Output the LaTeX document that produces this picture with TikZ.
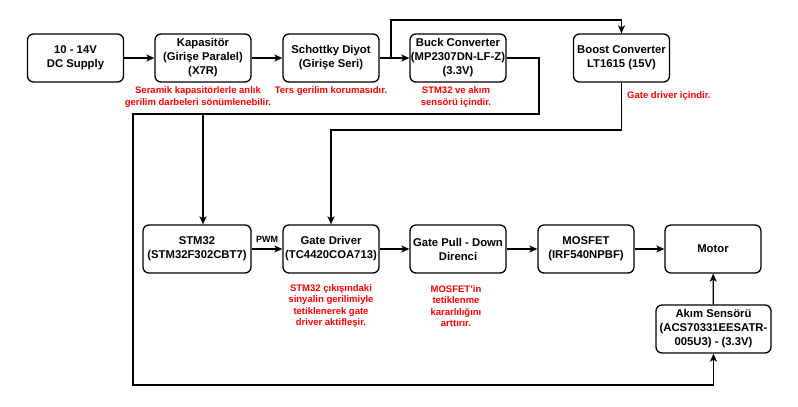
\documentclass[tikz,border=0pt]{standalone}
\usepackage{fontspec}
\setmainfont{Liberation Sans}
\usetikzlibrary{arrows.meta}
\begin{document}
\begin{tikzpicture}[x=1pt,y=-1pt,
  box/.style={draw,line width=1.3pt,rounded corners=6pt,minimum width=96pt,minimum height=48pt,inner sep=0pt,align=center,font=\bfseries\fontsize{11.3}{14}\selectfont},
  note/.style={text=red,align=center,font=\bfseries\fontsize{9.5}{11.5}\selectfont,inner sep=0pt},
  wire/.style={line width=1.3pt},
  arr/.style={wire,-{Stealth[length=8pt,width=7pt,inset=2pt]}}]
\useasboundingbox (0,0) rectangle (798,407);
\node[box] (dc) at (75.5,58) {10 - 14V\\DC Supply};
\node[box] (kap) at (203,58) {Kapasitör\\(Girişe Paralel)\\(X7R)};
\node[box] (sch) at (331,58) {Schottky Diyot\\(Girişe Seri)};
\node[box] (buck) at (458,58) {Buck Converter\\(MP2307DN-LF-Z)\\(3.3V)};
\node[box] (boost) at (621.5,58) {Boost Converter\\LT1615 (15V)};
\node[box,minimum width=108pt] (stm) at (197,249) {STM32\\(STM32F302CBT7)};
\node[box] (gd) at (331,249) {Gate Driver\\(TC4420COA713)};
\node[box] (gpd) at (458,249) {Gate Pull - Down\\Direnci};
\node[box] (mos) at (586,249) {MOSFET\\(IRF540NPBF)};
\node[box] (motor) at (713,249) {Motor};
\node[box,minimum width=115pt] (akim) at (713.5,329) {Akım Sensörü\\(ACS70331EESATR-\\005U3) - (3.3V)};
\node[note] (nkap) at (198,97) {Seramik kapasitörlerle anlık\\gerilim darbeleri sönümlenebilir.};
\node[note] (nsch) at (331,91) {Ters gerilim korumasıdır.};
\node[note] (nbuck) at (456,97) {STM32 ve akım\\sensörü içindir.};
\node[note,anchor=west] (nboost) at (627,96) {Gate driver içindir.};
\node[note] (ngd) at (331,306) {STM32 çıkışındaki\\sinyalin gerilimiyle\\tetiklenerek gate\\driver aktifleşir.};
\node[note] (ngpd) at (456,306) {MOSFET'in\\tetiklenme\\kararlılığını\\arttırır.};
\node[font=\bfseries\fontsize{9}{10}\selectfont,inner sep=0pt] (pwm) at (267,239) {PWM};
\coordinate (j1) at (391,58);
\coordinate (t1) at (391,20);
\coordinate (b1) at (539,114);
\coordinate (b2) at (133,114);
\coordinate (b3) at (133,385);
\coordinate (b4) at (203,114);
\coordinate (c1) at (331,130);
\draw[arr] (dc) -- (kap);
\draw[arr] (kap) -- (sch);
\draw[arr] (sch) -- (buck);
\draw[arr] (j1) -- (t1) -| (boost.north);
\draw[arr] (buck.east) -| (b1) -- (b2) -- (b3) -| (akim.south);
\draw[arr] (b4) -- (b4 |- stm.north);
\draw[arr] (boost.south) |- (c1) -- (gd.north);
\draw[arr] (stm) -- (gd);
\draw[arr] (gd) -- (gpd);
\draw[arr] (gpd) -- (mos);
\draw[arr] (mos) -- (motor);
\draw[arr] (akim) -- (motor);
\end{tikzpicture}
\end{document}
